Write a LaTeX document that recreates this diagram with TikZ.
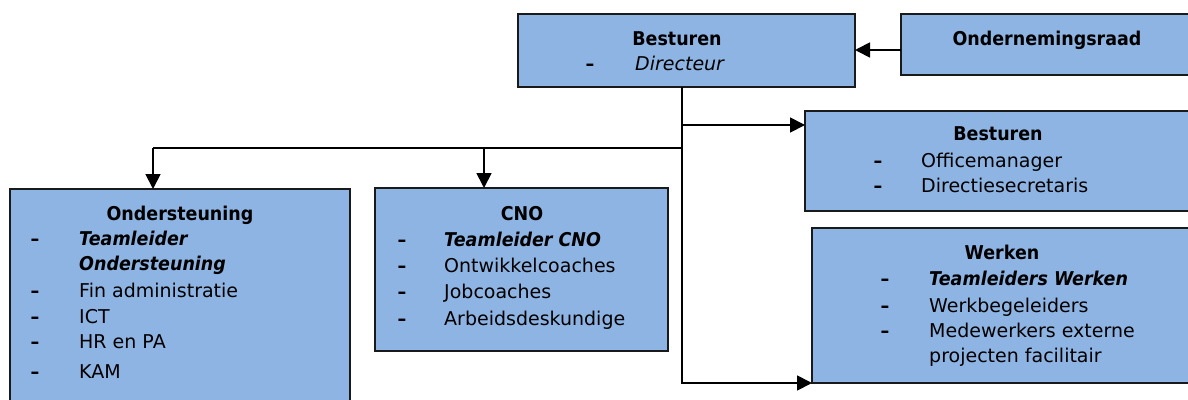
\documentclass[tikz,border=0pt]{standalone}
\usepackage{fontspec}
\setmainfont{DejaVu Sans}[BoldFeatures={FakeStretch=0.92},BoldItalicFeatures={FakeStretch=0.92}]
\usetikzlibrary{arrows.meta}
\definecolor{boxfill}{HTML}{8EB4E3}
\definecolor{boxline}{HTML}{1A1A1A}
\begin{document}
\begin{tikzpicture}[x=1pt,y=-1pt,
  box/.style={draw=boxline,line width=1.6pt,fill=boxfill,rectangle,inner sep=0pt,outer sep=0pt},
  conn/.style={line width=1.8pt,draw=black},
  arr/.style={conn,-{Triangle[length=15pt,width=15pt]}},
  txt/.style={inner sep=0pt,font=\fontsize{19}{24}\selectfont},
  ttl/.style={txt,anchor=base,font=\fontsize{19}{24}\selectfont\bfseries},
  dsh/.style={txt,anchor=base,font=\fontsize{19}{24}\selectfont\bfseries},
  itm/.style={txt,anchor=base west}]
\useasboundingbox (0,0) rectangle (1188,399);
\clip (0,0) rectangle (1188,399);
% boxes
\node[box,minimum width=337pt,minimum height=73pt] (top) at (686.5,50.5) {};
\node[box,minimum width=294pt,minimum height=61pt] (or) at (1048,44.5) {};
\node[box,minimum width=390pt,minimum height=100pt] (bes) at (1000,161) {};
\node[box,minimum width=340pt,minimum height=221pt] (ond) at (180,299.5) {};
\node[box,minimum width=293pt,minimum height=163pt] (cno) at (521.5,269.5) {};
\node[box,minimum width=383pt,minimum height=155pt] (wer) at (1003.5,305.5) {};
% connector coordinates
\coordinate (t0) at (682,87);
\coordinate (jb) at (682,125);
\coordinate (jh) at (682,148);
\coordinate (jw) at (682,383);
\coordinate (hl) at (153,148);
\coordinate (hc) at (484,148);
\coordinate (ore) at (901,50);
% connectors
\draw[arr] (ore) -- (ore -| top.east);
\draw[conn] (t0) -- (jw);
\draw[arr] (jb) -- (jb -| bes.west);
\draw[conn] (jh) -- (hl);
\draw[arr] (hl) -- (hl |- ond.north);
\draw[arr] (hc) -- (hc |- cno.north);
\draw[arr] ([xshift=-0.9pt]jw) -- (jw -| wer.west);
% texts: top
\node[ttl] (t1) at (677,45) {Besturen};
\node[dsh] (t2) at (590,70) {–};
\node[itm] (t3) at (635,70) {\itshape Directeur};
% Ondernemingsraad
\node[ttl] (o1) at (1047,45) {Ondernemingsraad};
% Besturen 2
\node[ttl] (b1) at (998,140) {Besturen};
\node[dsh] (b2) at (878,167) {–};
\node[itm] (b3) at (921,167) {Officemanager};
\node[dsh] (b4) at (878,192) {–};
\node[itm] (b5) at (921,192) {Directiesecretaris};
% Werken
\node[ttl] (w1) at (1002,259) {Werken};
\node[dsh] (w2) at (885,285) {–};
\node[itm] (w3) at (929,285) {\bfseries\itshape Teamleiders Werken};
\node[dsh] (w4) at (885,312) {–};
\node[itm] (w5) at (929,312) {Werkbegeleiders};
\node[dsh] (w6) at (885,337) {–};
\node[itm] (w7) at (929,337) {Medewerkers externe};
\node[itm] (w8) at (929,362) {projecten facilitair};
% Ondersteuning
\node[ttl] (s1) at (180,220) {Ondersteuning};
\node[dsh] (s2) at (35,245) {–};
\node[itm] (s3) at (79,245) {\bfseries\itshape Teamleider};
\node[itm] (s4) at (79,270) {\bfseries\itshape Ondersteuning};
\node[dsh] (s5) at (35,297) {–};
\node[itm] (s6) at (79,297) {Fin administratie};
\node[dsh] (s7) at (35,323) {–};
\node[itm] (s8) at (79,323) {ICT};
\node[dsh] (s9) at (35,348) {–};
\node[itm] (s10) at (79,348) {HR en PA};
\node[dsh] (s11) at (35,378) {–};
\node[itm] (s12) at (79,378) {KAM};
% CNO
\node[ttl] (c1) at (522,220) {CNO};
\node[dsh] (c2) at (402,246) {–};
\node[itm] (c3) at (444,246) {\bfseries\itshape Teamleider CNO};
\node[dsh] (c4) at (402,272) {–};
\node[itm] (c5) at (444,272) {Ontwikkelcoaches};
\node[dsh] (c6) at (402,298) {–};
\node[itm] (c7) at (444,298) {Jobcoaches};
\node[dsh] (c8) at (402,325) {–};
\node[itm] (c9) at (444,325) {Arbeidsdeskundige};
\end{tikzpicture}
\end{document}
